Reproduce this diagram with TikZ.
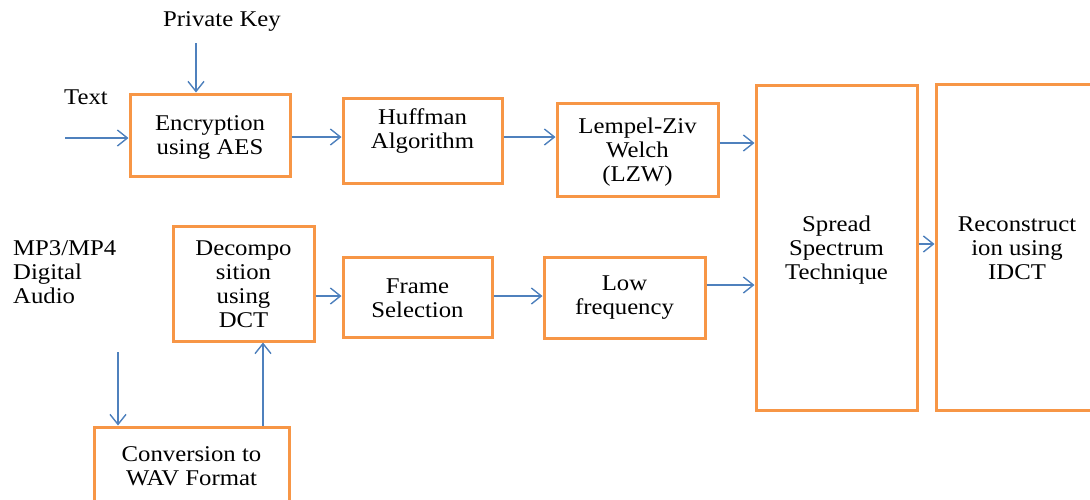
\documentclass[tikz,border=0pt]{standalone}
\usepackage{fontspec}
\setmainfont{Liberation Serif}[FakeStretch=1.1]
\usetikzlibrary{arrows.meta}
\definecolor{boxorange}{HTML}{F79646}
\definecolor{arrblue}{HTML}{4F81BD}
\tikzset{
  box/.style={draw=boxorange, line width=3pt, rectangle, inner sep=0pt},
  txt/.style={align=center, inner sep=0pt, font=\fontsize{22.5}{24}\selectfont},
  arr/.style={draw=arrblue, line width=1.4pt, -{Straight Barb[length=10pt,width=16pt,line width=1.4pt]}}
}
\begin{document}
\begin{tikzpicture}[x=1pt,y=-1pt]
\useasboundingbox (0,0) rectangle (1090,499);
\clip (0,0) rectangle (1090,499);
% boxes
\node[box, minimum width=160pt, minimum height=82pt] (enc) at (210,135) {};
\node[box, minimum width=159pt, minimum height=85pt] (huff) at (422.5,140.5) {};
\node[box, minimum width=161pt, minimum height=93pt] (lzw) at (637.5,149.5) {};
\node[box, minimum width=161pt, minimum height=325pt] (spread) at (836.5,247.5) {};
\node[box, minimum width=159pt, minimum height=326pt] (recon) at (1015.5,247) {};
\node[box, minimum width=141pt, minimum height=115pt] (dec) at (243.5,283.5) {};
\node[box, minimum width=195pt, minimum height=83pt] (conv) at (191.5,468.5) {};
\node[box, minimum width=149pt, minimum height=80pt] (frame) at (417.5,297) {};
\node[box, minimum width=161pt, minimum height=81pt] (low) at (624.5,297.5) {};
% texts
\node[txt] (tenc) at (210,137) {Encryption\\using AES};
\node[txt] (thuff) at (422.5,131) {Huffman\\Algorithm};
\node[txt] (tlzw) at (637.5,152) {Lempel-Ziv\\Welch\\(LZW)};
\node[txt] (tspread) at (836.5,250) {Spread\\Spectrum\\Technique};
\node[txt] (trecon) at (1017,248) {Reconstruct\\ion using\\IDCT};
\node[txt] (tdec) at (243.5,284) {Decompo\\sition\\using\\DCT};
\node[txt] (tframe) at (417.5,298) {Frame\\Selection};
\node[txt] (tlow) at (624.5,298) {Low\\frequency};
\node[txt] (tconv) at (191.5,466) {Conversion to\\WAV Format};
\node[txt] (tpk) at (222,21) {Private Key};
\node[txt] (ttext) at (86,97) {Text};
\node[txt, align=left, anchor=west] (tmp3) at (13,272) {MP3/MP4\\Digital\\Audio};
% free ends
\coordinate (pk) at (196,43);
\coordinate (tin) at (65,138);
\coordinate (mp3) at (118,352);
% connectors
\draw[arr] (pk) -- (pk |- enc.north);
\draw[arr] (tin) -- (tin -| enc.west);
\draw[arr] (enc.east |- 0,137) -- (huff.west |- 0,137);
\draw[arr] (huff.east |- 0,137) -- (lzw.west |- 0,137);
\draw[arr] (lzw.east |- 0,143) -- (spread.west |- 0,143);
\draw[arr] (low.east |- 0,285) -- (spread.west |- 0,285);
\draw[arr] (spread.east |- 0,244) -- (recon.west |- 0,244);
\draw[arr] (dec.east |- 0,296) -- (frame.west |- 0,296);
\draw[arr] (frame.east |- 0,296) -- (low.west |- 0,296);
\draw[arr] (mp3) -- (mp3 |- conv.north);
\draw[arr] (conv.north -| 263,0) -- (dec.south -| 263,0);
\end{tikzpicture}
\end{document}
